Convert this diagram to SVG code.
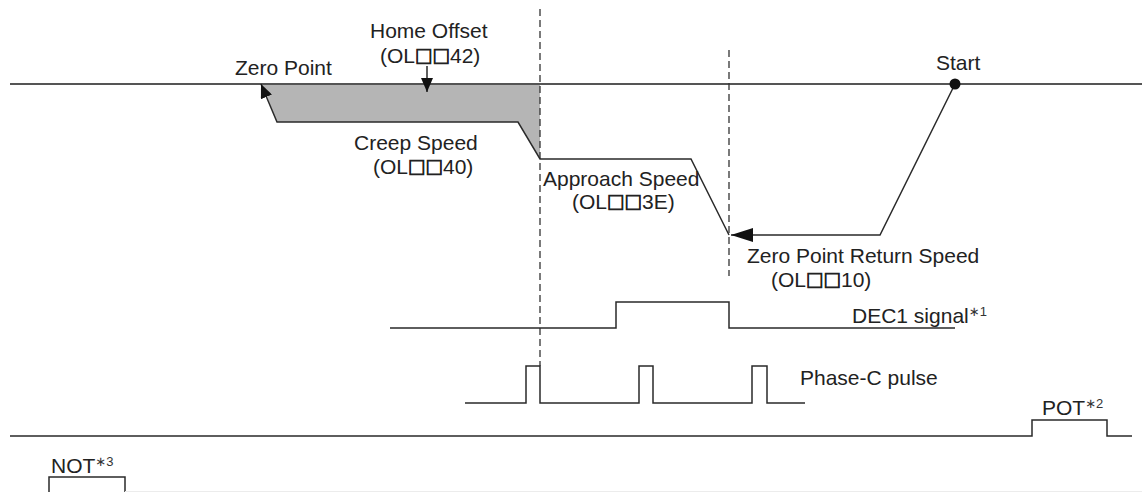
<svg xmlns="http://www.w3.org/2000/svg" width="1142" height="492" viewBox="0 0 1142 492">
<style>
  text { font-family: "Liberation Sans", "DejaVu Sans", Arial, sans-serif; font-size: 21px; fill: #222; }
  .sup { font-size: 13px; fill: #333; }
  .box { font-family: "Noto Sans CJK JP", "DejaVu Sans", sans-serif; font-size: 17.5px; font-weight: bold; stroke: #222; stroke-width: 0.9; }
  .ln { fill: none; stroke: #2a2a2a; stroke-width: 1.5; }
  .axis { fill: none; stroke: #555; stroke-width: 2; }
  .dash { fill: none; stroke: #333; stroke-width: 1.3; stroke-dasharray: 7 4; }
</style>
<defs>
  <marker id="ah" viewBox="0 0 14 12" refX="14" refY="6" markerWidth="14" markerHeight="12" markerUnits="userSpaceOnUse" orient="auto">
    <path d="M0,0 L14,6 L0,12 z" fill="#111"/>
  </marker>
  <marker id="ahL" viewBox="0 0 22 14" refX="22" refY="7" markerWidth="22" markerHeight="14" markerUnits="userSpaceOnUse" orient="auto">
    <path d="M0,0 L22,7 L0,14 z" fill="#111"/>
  </marker>
</defs>

<g id="offset-area">
  <polygon points="262,84 540,84 540,159 518,122 277,122" fill="#b5b5b5"/>
</g>

<g id="axes">
  <line class="axis" x1="10" y1="84" x2="1142" y2="84"/>
  <line class="dash" x1="540" y1="9" x2="540" y2="366"/>
  <line class="dash" x1="729" y1="50" x2="729" y2="276"/>
</g>

<g id="connectors">
  <path class="ln" d="M955,84 L880,235 L731,235" marker-end="url(#ahL)"/>
  <path class="ln" d="M729,235 L691,159 L540,159 L518,122 L277,122 L261,84" marker-end="url(#ah)"/>
  <path class="ln" d="M427,66 L427,92" marker-end="url(#ah)"/>
</g>

<g id="start">
  <circle cx="955" cy="84" r="5.5" fill="#111"/>
  <text x="936" y="70">Start</text>
</g>

<g id="zero-point"><text x="235" y="75">Zero Point</text></g>
<g id="home-offset">
  <text x="370" y="38">Home Offset</text>
  <text x="380" y="63">(OL<tspan class="box">□□</tspan>42)</text>
</g>
<g id="creep-speed">
  <text x="354" y="150">Creep Speed</text>
  <text x="373" y="174">(OL<tspan class="box">□□</tspan>40)</text>
</g>
<g id="approach-speed">
  <text x="543" y="186">Approach Speed</text>
  <text x="572" y="209">(OL<tspan class="box">□□</tspan>3E)</text>
</g>
<g id="return-speed">
  <text x="747" y="263">Zero Point Return Speed</text>
  <text x="771" y="287">(OL<tspan class="box">□□</tspan>10)</text>
</g>

<g id="dec1-signal">
  <path class="ln" d="M390,328 H616 V302 H729 V328 H955"/>
  <text x="852" y="323">DEC1 signal<tspan class="sup" dy="-7">∗1</tspan></text>
</g>

<g id="phase-c-pulse">
  <path class="ln" d="M465,403 H526 V366 H540 V403 H639 V366 H653 V403 H752 V366 H767 V403 H805"/>
  <text x="800" y="385">Phase-C pulse</text>
</g>

<g id="pot">
  <path class="ln" d="M10,436 H1032 V420 H1107 V436 H1132"/>
  <text x="1042" y="415">POT<tspan class="sup" dy="-7">∗2</tspan></text>
</g>

<g id="not">
  <path class="ln" d="M49,493 V477 H125 V493"/>
  <line x1="125" y1="491.5" x2="1142" y2="491.5" stroke="#ececec" stroke-width="1"/>
  <text x="51" y="473">NOT<tspan class="sup" dy="-7">∗3</tspan></text>
</g>
</svg>
